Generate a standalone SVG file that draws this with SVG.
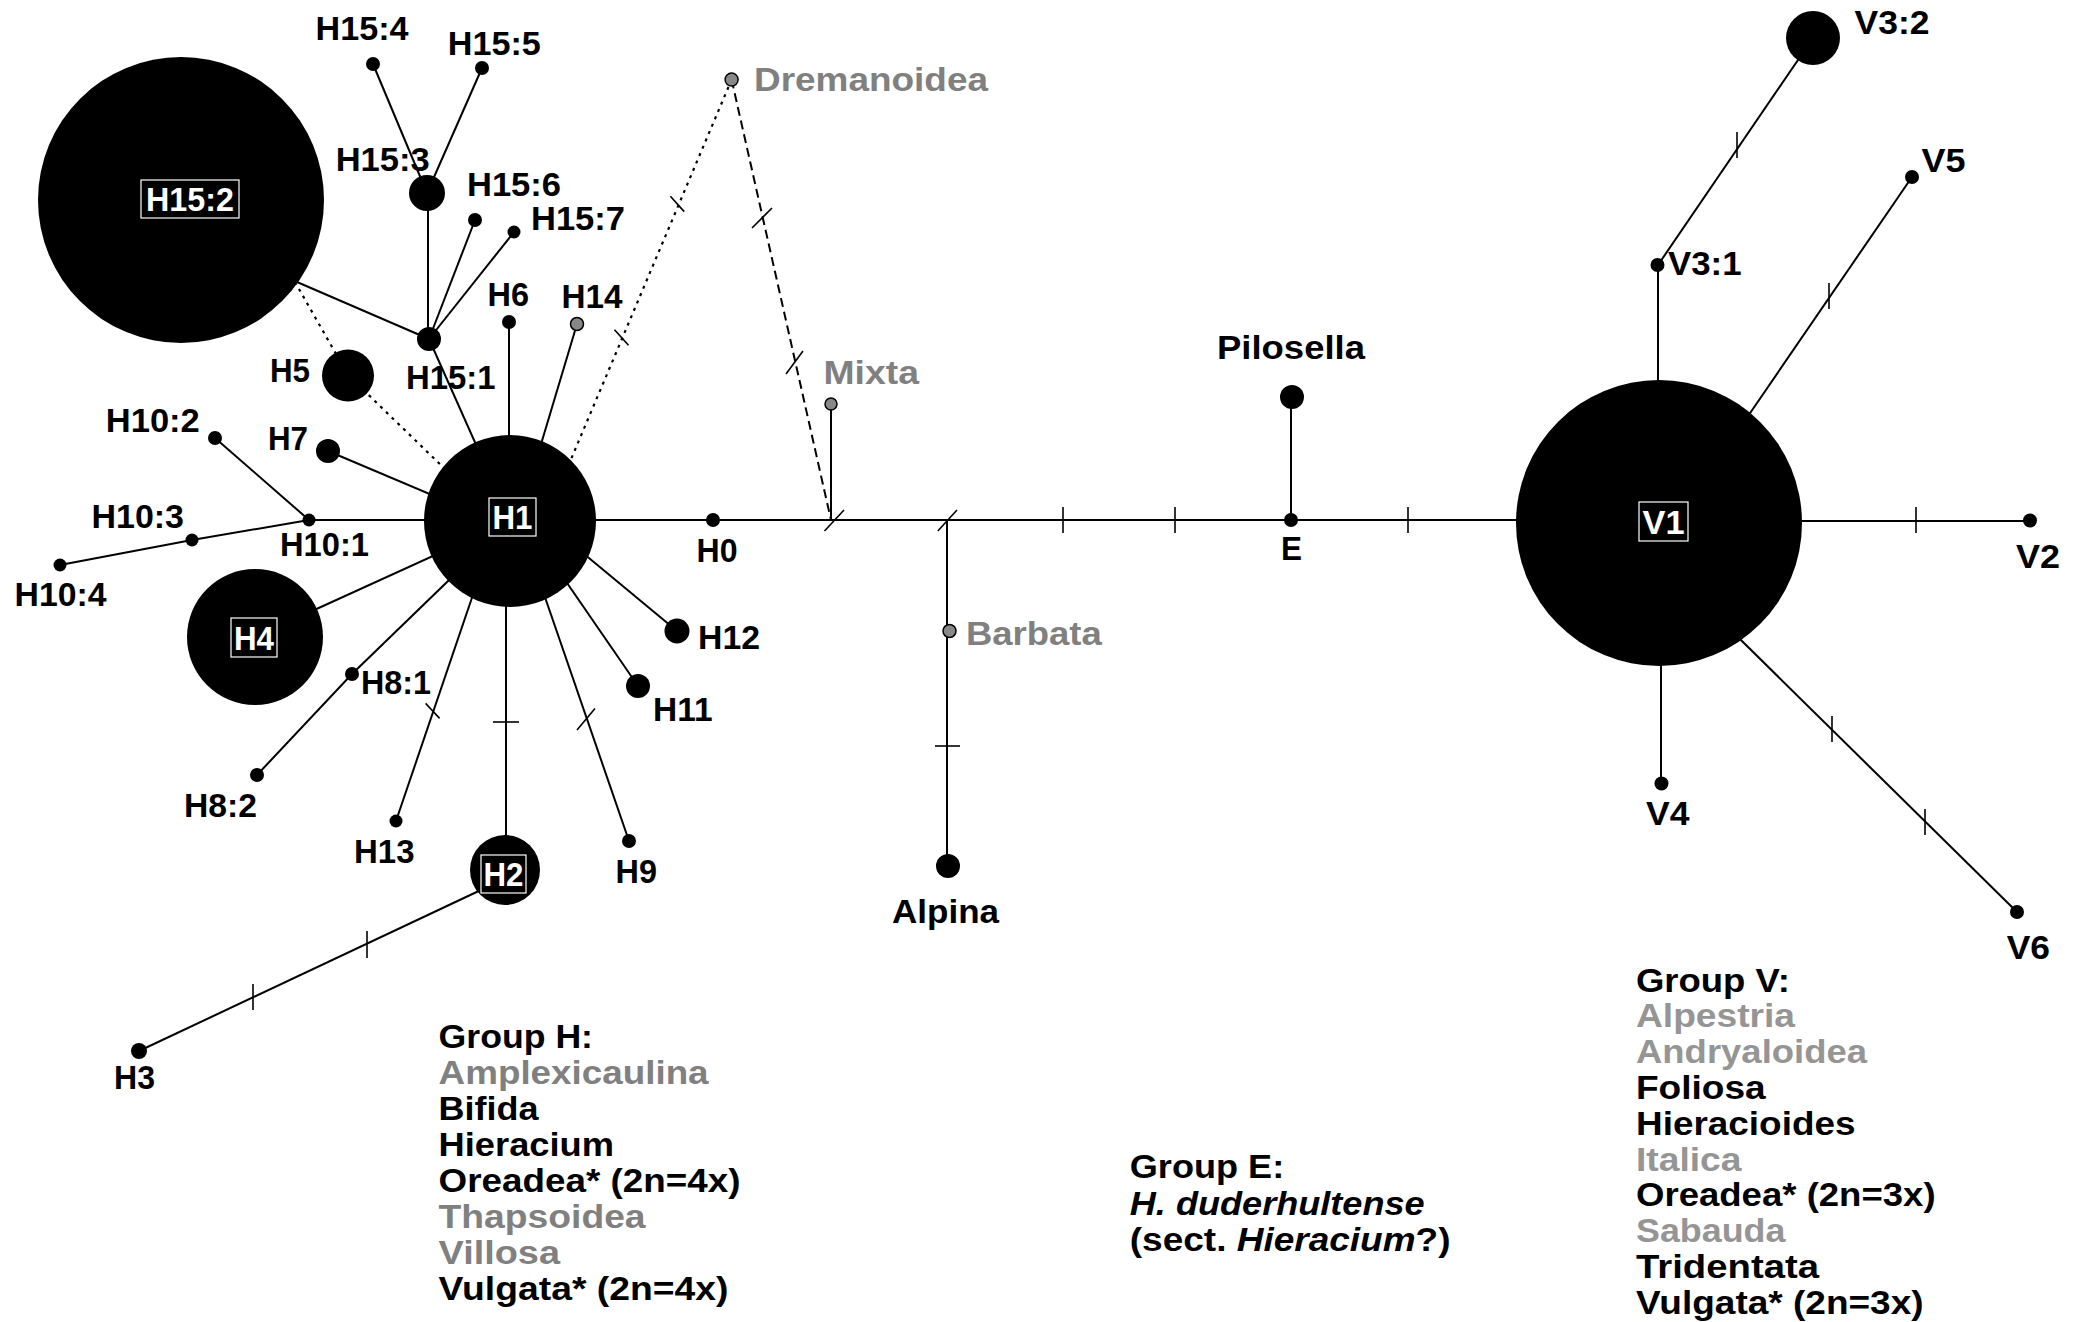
<svg xmlns="http://www.w3.org/2000/svg" width="2078" height="1322" viewBox="0 0 2078 1322">
<style>
.e{stroke:#000;stroke-width:2;fill:none}
.t{stroke:#000;stroke-width:1.6;fill:none}
.dash{stroke-dasharray:9 5}
.dot{stroke-dasharray:3 5;stroke-width:2.2}
.n{fill:#000}
.g{fill:#888;stroke:#000;stroke-width:1.5}
text{font-family:"Liberation Sans",Arial,Helvetica,sans-serif;font-weight:bold;font-size:33px;fill:#000}
.gr{fill:#808080}
.gv{fill:#959595}
.w{fill:#fff}
.box{fill:none;stroke:#fff;stroke-width:1.2}
</style>
<rect x="0" y="0" width="2078" height="1322" fill="#fff"/>
<g id="connectors">
<path class="e" d="M309 520 H1659"/>
<path class="e" d="M831 404 V520"/>
<path class="e dash" d="M731.6 79.6 L831 520"/>
<path class="e dot" d="M731.6 79.6 L569 464"/>
<path class="e dot" d="M295 282 L348 375 L447 471"/>
<path class="e" d="M297 282 L429 339"/>
<path class="e" d="M428 339 V193"/>
<path class="e" d="M427 193 L373 64"/>
<path class="e" d="M427 193 L482 68"/>
<path class="e" d="M429 339 L475 220"/>
<path class="e" d="M429 339 L514 232"/>
<path class="e" d="M429 339 L510 521"/>
<path class="e" d="M509 322 V521"/>
<path class="e" d="M577 324 L518 521"/>
<path class="e" d="M328 451 L510 528"/>
<path class="e" d="M309 520 L215 438"/>
<path class="e" d="M309 520 L192 540 L60 565"/>
<path class="e" d="M255 637 L510 521"/>
<path class="e" d="M257 775 L352 674 L510 521"/>
<path class="e" d="M396 821 L478 580"/>
<path class="e" d="M506 870 V521"/>
<path class="e" d="M629 841 L537 574"/>
<path class="e" d="M638 686 L545 551"/>
<path class="e" d="M677 631 L560 534"/>
<path class="e" d="M139 1051 L500 881"/>
<path class="e" d="M947 520 V866"/>
<path class="e" d="M1291 397 V520"/>
<path class="e" d="M1658 265 V523"/>
<path class="e" d="M1658 265 L1813 38"/>
<path class="e" d="M1912 177 L1676 521"/>
<path class="e" d="M1659 521 H2030"/>
<path class="e" d="M1661 523 V783"/>
<path class="e" d="M2017 912 L1680 580"/>
<g id="ticks">
<path class="t" d="M824.5 531 L844 510"/>
<path class="t" d="M937.8 531 L957 510"/>
<path class="t" d="M1063 507 V533"/>
<path class="t" d="M1175 507 V533"/>
<path class="t" d="M1408 507 V533"/>
<path class="t" d="M1916 507 V533"/>
<path class="t" d="M935 746 H960"/>
<path class="t" d="M752 228 L772 208"/>
<path class="t" d="M786 374 L803 351"/>
<path class="t" d="M670.4 196.3 L684.2 211.6"/>
<path class="t" d="M614.5 329.8 L628.5 345.2"/>
<path class="t" d="M425.6 703.4 L439.6 718.4"/>
<path class="t" d="M493 722 H519"/>
<path class="t" d="M577 730 L595 708.5"/>
<path class="t" d="M367 931 V958"/>
<path class="t" d="M253 984 V1010"/>
<path class="t" d="M1737 132 V158"/>
<path class="t" d="M1829 283 V309"/>
<path class="t" d="M1832 716 V742"/>
<path class="t" d="M1925 809 V835"/>
</g>
</g>
<g id="node-H15-2"><circle class="n" cx="181" cy="200" r="143"/><rect class="box" x="141" y="180" width="98" height="38"/><text class="w" x="146" y="211" textLength="88" lengthAdjust="spacingAndGlyphs">H15:2</text></g>
<g id="node-H1"><circle class="n" cx="510" cy="521" r="86"/><rect class="box" x="489" y="498" width="47" height="38"/><text class="w" x="492.5" y="529" textLength="40" lengthAdjust="spacingAndGlyphs">H1</text></g>
<g id="node-H4"><circle class="n" cx="255" cy="637" r="68"/><rect class="box" x="231" y="618" width="46" height="39"/><text class="w" x="234" y="649.5" textLength="40" lengthAdjust="spacingAndGlyphs">H4</text></g>
<g id="node-H2"><circle class="n" cx="505" cy="870" r="35"/><rect class="box" x="481" y="855" width="45" height="38"/><text class="w" x="483.5" y="886" textLength="40" lengthAdjust="spacingAndGlyphs">H2</text></g>
<g id="node-V1"><circle class="n" cx="1659" cy="523" r="143"/><rect class="box" x="1639" y="502" width="49" height="39"/><text class="w" x="1642.5" y="533.5" textLength="42" lengthAdjust="spacingAndGlyphs">V1</text></g>
<g id="node-H5"><circle class="n" cx="348" cy="375.5" r="26"/><text x="270" y="382" textLength="40" lengthAdjust="spacingAndGlyphs">H5</text></g>
<g id="node-H15-3"><circle class="n" cx="427" cy="193" r="18"/><text x="335.7" y="170.7" textLength="94" lengthAdjust="spacingAndGlyphs">H15:3</text></g>
<g id="node-H15-1"><circle class="n" cx="429" cy="339" r="12"/><text x="406" y="389" textLength="89.5" lengthAdjust="spacingAndGlyphs">H15:1</text></g>
<g id="node-H15-4"><circle class="n" cx="373" cy="64" r="7"/><text x="315.6" y="40.4" textLength="93" lengthAdjust="spacingAndGlyphs">H15:4</text></g>
<g id="node-H15-5"><circle class="n" cx="482" cy="68" r="7"/><text x="447.8" y="54.6" textLength="93" lengthAdjust="spacingAndGlyphs">H15:5</text></g>
<g id="node-H15-6"><circle class="n" cx="475" cy="220" r="7"/><text x="467" y="196.4" textLength="94" lengthAdjust="spacingAndGlyphs">H15:6</text></g>
<g id="node-H15-7"><circle class="n" cx="514" cy="232" r="6.5"/><text x="531" y="229.6" textLength="94" lengthAdjust="spacingAndGlyphs">H15:7</text></g>
<g id="node-H6"><circle class="n" cx="509" cy="322" r="7"/><text x="487.5" y="306" textLength="41.5" lengthAdjust="spacingAndGlyphs">H6</text></g>
<g id="node-H14"><circle class="g" cx="577" cy="324" r="6.5"/><text x="561.6" y="308" textLength="61" lengthAdjust="spacingAndGlyphs">H14</text></g>
<g id="node-H7"><circle class="n" cx="328" cy="451" r="12"/><text x="268" y="450" textLength="40" lengthAdjust="spacingAndGlyphs">H7</text></g>
<g id="node-H10-2"><circle class="n" cx="215" cy="438" r="7"/><text x="105.8" y="432" textLength="94" lengthAdjust="spacingAndGlyphs">H10:2</text></g>
<g id="node-H10-1"><circle class="n" cx="309" cy="520" r="6.5"/><text x="280" y="556" textLength="89" lengthAdjust="spacingAndGlyphs">H10:1</text></g>
<g id="node-H10-3"><circle class="n" cx="192" cy="540" r="6.5"/><text x="91.5" y="528" textLength="92.5" lengthAdjust="spacingAndGlyphs">H10:3</text></g>
<g id="node-H10-4"><circle class="n" cx="60" cy="565" r="6.5"/><text x="14.5" y="605.7" textLength="92" lengthAdjust="spacingAndGlyphs">H10:4</text></g>
<g id="node-H8-1"><circle class="n" cx="352" cy="674" r="7"/><text x="361" y="693.5" textLength="70" lengthAdjust="spacingAndGlyphs">H8:1</text></g>
<g id="node-H8-2"><circle class="n" cx="257" cy="775" r="7"/><text x="184" y="817" textLength="73" lengthAdjust="spacingAndGlyphs">H8:2</text></g>
<g id="node-H13"><circle class="n" cx="396" cy="821" r="6.5"/><text x="354" y="863" textLength="60.5" lengthAdjust="spacingAndGlyphs">H13</text></g>
<g id="node-H9"><circle class="n" cx="629" cy="841" r="7"/><text x="615.6" y="882.5" textLength="41.4" lengthAdjust="spacingAndGlyphs">H9</text></g>
<g id="node-H11"><circle class="n" cx="638" cy="686" r="12"/><text x="653" y="721" textLength="59.5" lengthAdjust="spacingAndGlyphs">H11</text></g>
<g id="node-H12"><circle class="n" cx="677" cy="631" r="12.5"/><text x="698" y="649" textLength="62" lengthAdjust="spacingAndGlyphs">H12</text></g>
<g id="node-H0"><circle class="n" cx="713" cy="520" r="7"/><text x="696.5" y="562" textLength="41" lengthAdjust="spacingAndGlyphs">H0</text></g>
<g id="node-H3"><circle class="n" cx="139" cy="1051" r="8"/><text x="114" y="1089" textLength="41" lengthAdjust="spacingAndGlyphs">H3</text></g>
<g id="node-Dremanoidea"><circle class="g" cx="731.6" cy="79.6" r="6.5"/><text class="gr" x="754" y="90.7" textLength="234" lengthAdjust="spacingAndGlyphs">Dremanoidea</text></g>
<g id="node-Mixta"><circle class="g" cx="831" cy="404" r="6"/><text class="gr" x="823.5" y="384" textLength="95.5" lengthAdjust="spacingAndGlyphs">Mixta</text></g>
<g id="node-Barbata"><circle class="g" cx="949.5" cy="631" r="6.5"/><text class="gr" x="966" y="645" textLength="135.7" lengthAdjust="spacingAndGlyphs">Barbata</text></g>
<g id="node-Alpina"><circle class="n" cx="948" cy="866" r="12"/><text x="892" y="923" textLength="107" lengthAdjust="spacingAndGlyphs">Alpina</text></g>
<g id="node-Pilosella"><circle class="n" cx="1292" cy="397" r="12"/><text x="1217" y="359.3" textLength="148" lengthAdjust="spacingAndGlyphs">Pilosella</text></g>
<g id="node-E"><circle class="n" cx="1291" cy="520" r="7"/><text x="1281" y="560" textLength="21" lengthAdjust="spacingAndGlyphs">E</text></g>
<g id="node-V3-1"><circle class="n" cx="1657.5" cy="265" r="7"/><text x="1668" y="274.8" textLength="73.5" lengthAdjust="spacingAndGlyphs">V3:1</text></g>
<g id="node-V3-2"><circle class="n" cx="1813" cy="38" r="27"/><text x="1854.5" y="34.4" textLength="75" lengthAdjust="spacingAndGlyphs">V3:2</text></g>
<g id="node-V5"><circle class="n" cx="1912" cy="177" r="7"/><text x="1921.4" y="172" textLength="44" lengthAdjust="spacingAndGlyphs">V5</text></g>
<g id="node-V2"><circle class="n" cx="2030" cy="520.5" r="7"/><text x="2016" y="568.3" textLength="44" lengthAdjust="spacingAndGlyphs">V2</text></g>
<g id="node-V4"><circle class="n" cx="1661.5" cy="783.5" r="7"/><text x="1646" y="825" textLength="43.5" lengthAdjust="spacingAndGlyphs">V4</text></g>
<g id="node-V6"><circle class="n" cx="2017" cy="912" r="7"/><text x="2006.7" y="959.4" textLength="43.3" lengthAdjust="spacingAndGlyphs">V6</text></g>
<g id="legend-H">
<text x="438.6" y="1048" textLength="154.4" lengthAdjust="spacingAndGlyphs">Group H:</text>
<text class="gr" x="438.6" y="1084" textLength="270" lengthAdjust="spacingAndGlyphs">Amplexicaulina</text>
<text x="438.6" y="1120" textLength="100" lengthAdjust="spacingAndGlyphs">Bifida</text>
<text x="438.6" y="1156" textLength="175.4" lengthAdjust="spacingAndGlyphs">Hieracium</text>
<text x="438.6" y="1192" textLength="301.8" lengthAdjust="spacingAndGlyphs">Oreadea* (2n=4x)</text>
<text class="gr" x="438.6" y="1228" textLength="207" lengthAdjust="spacingAndGlyphs">Thapsoidea</text>
<text class="gr" x="438.6" y="1264" textLength="121.4" lengthAdjust="spacingAndGlyphs">Villosa</text>
<text x="438.6" y="1300" textLength="289.8" lengthAdjust="spacingAndGlyphs">Vulgata* (2n=4x)</text>
</g>
<g id="legend-E">
<text x="1129.8" y="1178" textLength="154.4" lengthAdjust="spacingAndGlyphs">Group E:</text>
<text x="1129.8" y="1215" textLength="294.8" lengthAdjust="spacingAndGlyphs" font-style="italic">H. duderhultense</text>
<text x="1129.8" y="1251" textLength="320.7" lengthAdjust="spacingAndGlyphs">(sect. <tspan font-style="italic">Hieracium</tspan>?)</text>
</g>
<g id="legend-V">
<text x="1636" y="991.5" textLength="154" lengthAdjust="spacingAndGlyphs">Group V:</text>
<text class="gv" x="1636" y="1027.3" textLength="159" lengthAdjust="spacingAndGlyphs">Alpestria</text>
<text class="gv" x="1636" y="1063.1" textLength="231" lengthAdjust="spacingAndGlyphs">Andryaloidea</text>
<text x="1636" y="1098.9" textLength="129.6" lengthAdjust="spacingAndGlyphs">Foliosa</text>
<text x="1636" y="1134.7" textLength="219.5" lengthAdjust="spacingAndGlyphs">Hieracioides</text>
<text class="gv" x="1636" y="1170.5" textLength="105.5" lengthAdjust="spacingAndGlyphs">Italica</text>
<text x="1636" y="1206.3" textLength="299.6" lengthAdjust="spacingAndGlyphs">Oreadea* (2n=3x)</text>
<text class="gv" x="1636" y="1242.1" textLength="149.4" lengthAdjust="spacingAndGlyphs">Sabauda</text>
<text x="1636" y="1277.9" textLength="183" lengthAdjust="spacingAndGlyphs">Tridentata</text>
<text x="1636" y="1313.7" textLength="287.6" lengthAdjust="spacingAndGlyphs">Vulgata* (2n=3x)</text>
</g>
</svg>
